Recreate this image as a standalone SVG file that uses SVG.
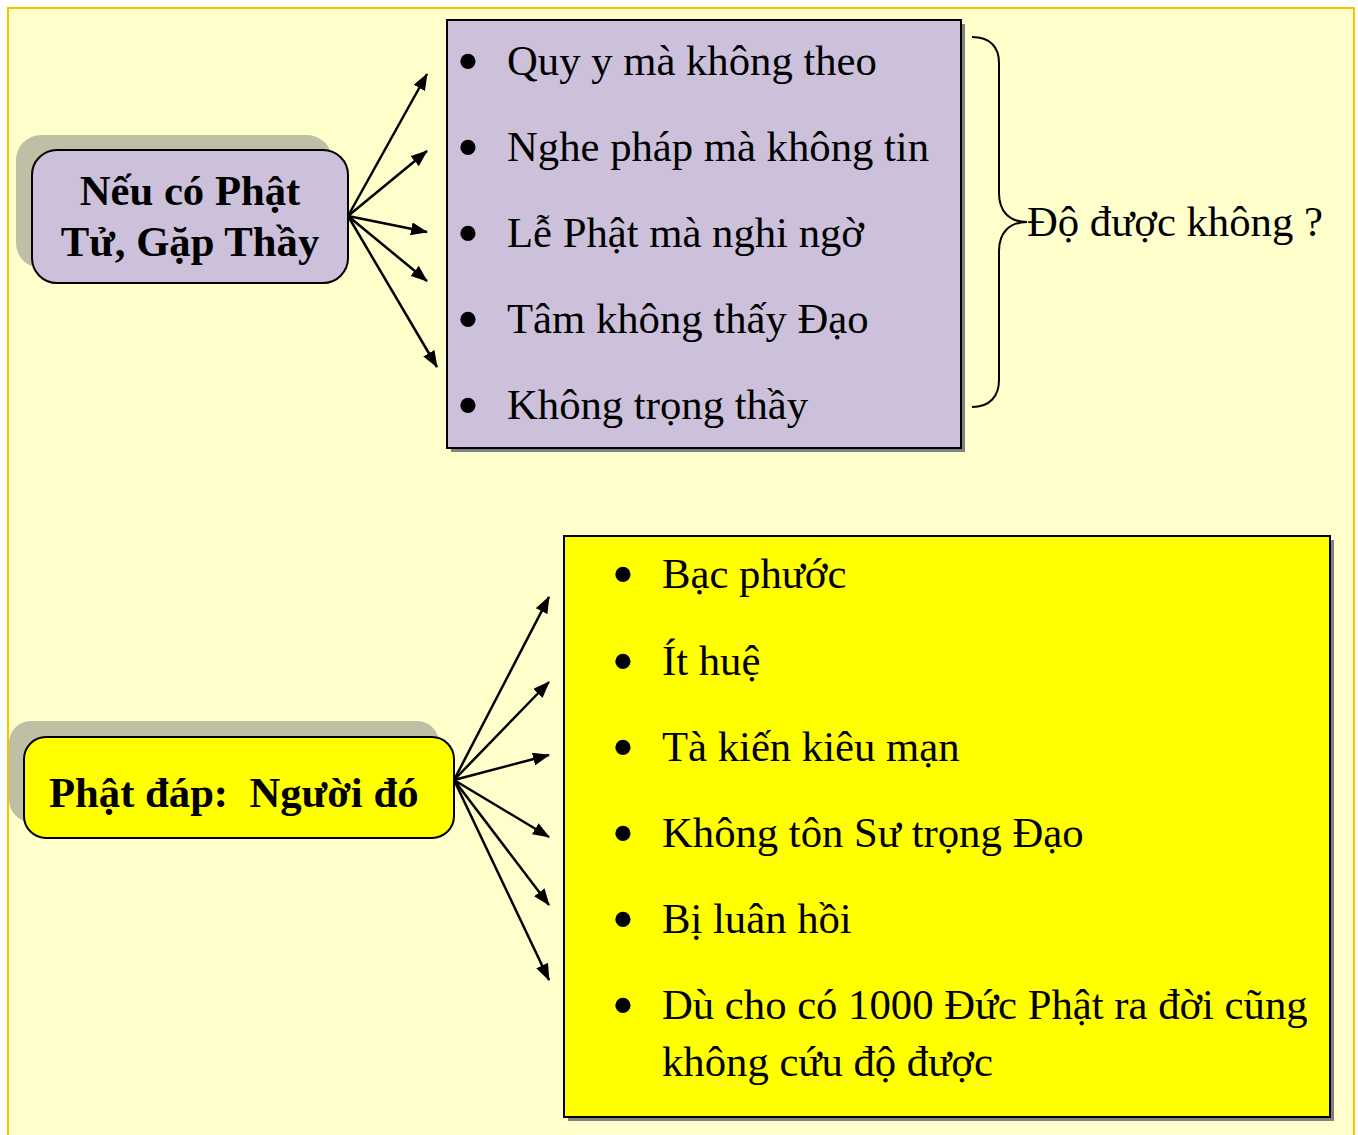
<svg xmlns="http://www.w3.org/2000/svg" width="1358" height="1135" viewBox="0 0 1358 1135">
<defs>
<marker id="ah" viewBox="0 0 17 13" refX="16" refY="6.5" markerWidth="17" markerHeight="13" markerUnits="userSpaceOnUse" orient="auto">
<path d="M0,0 L17,6.5 L0,13 z" fill="#000"/>
</marker>
<style>
.t{font-family:"Liberation Serif","Times New Roman",serif;font-size:42.7px;fill:#000}
.b{font-weight:bold}
.bul{font-family:"Liberation Serif","Times New Roman",serif;font-size:64px;fill:#000;text-anchor:middle}
.con{stroke:#000;stroke-width:2.5;fill:none;marker-end:url(#ah)}
.nshadow{fill:#BFBFA6}
.bshadow{fill:#808080}
.edge{stroke:#000;stroke-width:2}
</style>
</defs>
<rect x="0" y="0" width="1358" height="1135" fill="#fff"/>
<rect x="8" y="8" width="1346" height="1140" fill="#FFFFCC" stroke="#FFC000" stroke-width="2"/>

<g id="connectors">
<line class="con" x1="348" y1="216" x2="427" y2="74"/>
<line class="con" x1="348" y1="216" x2="427" y2="151"/>
<line class="con" x1="348" y1="216" x2="427" y2="232"/>
<line class="con" x1="348" y1="216" x2="427" y2="281"/>
<line class="con" x1="348" y1="216" x2="437" y2="367"/>
<line class="con" x1="454" y1="780" x2="549" y2="597"/>
<line class="con" x1="454" y1="780" x2="549" y2="682"/>
<line class="con" x1="454" y1="780" x2="549" y2="755"/>
<line class="con" x1="454" y1="780" x2="549" y2="837"/>
<line class="con" x1="454" y1="780" x2="549" y2="905"/>
<line class="con" x1="454" y1="780" x2="549" y2="980"/>
</g>

<g id="node-question">
<rect class="nshadow" x="16" y="135" width="316" height="133" rx="25"/>
<rect x="32" y="150" width="316" height="133" rx="25" fill="#CCC0DA" class="edge"/>
<text class="t b" x="190" y="205" text-anchor="middle">Nếu có Phật</text>
<text class="t b" x="190" y="256" text-anchor="middle">Tử, Gặp Thầy</text>
</g>

<g id="node-list1">
<rect class="bshadow" x="451" y="24" width="514" height="428"/>
<rect x="447" y="20" width="514" height="428" fill="#CCC0DA" class="edge"/>
<text class="bul" x="468" y="83">•</text>
<text class="t" x="507" y="75">Quy y mà không theo</text>
<text class="bul" x="468" y="169">•</text>
<text class="t" x="507" y="161">Nghe pháp mà không tin</text>
<text class="bul" x="468" y="255">•</text>
<text class="t" x="507" y="247">Lễ Phật mà nghi ngờ</text>
<text class="bul" x="468" y="341">•</text>
<text class="t" x="507" y="333">Tâm không thấy Đạo</text>
<text class="bul" x="468" y="427">•</text>
<text class="t" x="507" y="419">Không trọng thầy</text>
</g>

<g id="brace">
<path d="M972,37 C990,37 999,47 999,63 L999,193 C999,211 1009,222 1027,222 C1009,222 999,233 999,251 L999,380 C999,396 990,407 972,407" fill="none" stroke="#000" stroke-width="2"/>
</g>

<g id="node-answer-q">
<text class="t" x="1027" y="236">Độ được không ?</text>
</g>

<g id="node-answer">
<rect class="nshadow" x="9" y="721" width="430" height="101" rx="22"/>
<rect x="24" y="737" width="430" height="101" rx="22" fill="#FFFF00" class="edge"/>
<text class="t b" x="49" y="807" xml:space="preserve">Phật đáp:  Người đó</text>
</g>

<g id="node-list2">
<rect class="bshadow" x="568" y="540" width="766" height="581"/>
<rect x="564" y="536" width="766" height="581" fill="#FFFF00" class="edge"/>
<text class="bul" x="623" y="596">•</text>
<text class="t" x="662" y="588">Bạc phước</text>
<text class="bul" x="623" y="683">•</text>
<text class="t" x="662" y="675">Ít huệ</text>
<text class="bul" x="623" y="769">•</text>
<text class="t" x="662" y="761">Tà kiến kiêu mạn</text>
<text class="bul" x="623" y="855">•</text>
<text class="t" x="662" y="847">Không tôn Sư trọng Đạo</text>
<text class="bul" x="623" y="941">•</text>
<text class="t" x="662" y="933">Bị luân hồi</text>
<text class="bul" x="623" y="1027">•</text>
<text class="t" x="662" y="1019">Dù cho có 1000 Đức Phật ra đời cũng</text>
<text class="t" x="662" y="1076">không cứu độ được</text>
</g>
</svg>
